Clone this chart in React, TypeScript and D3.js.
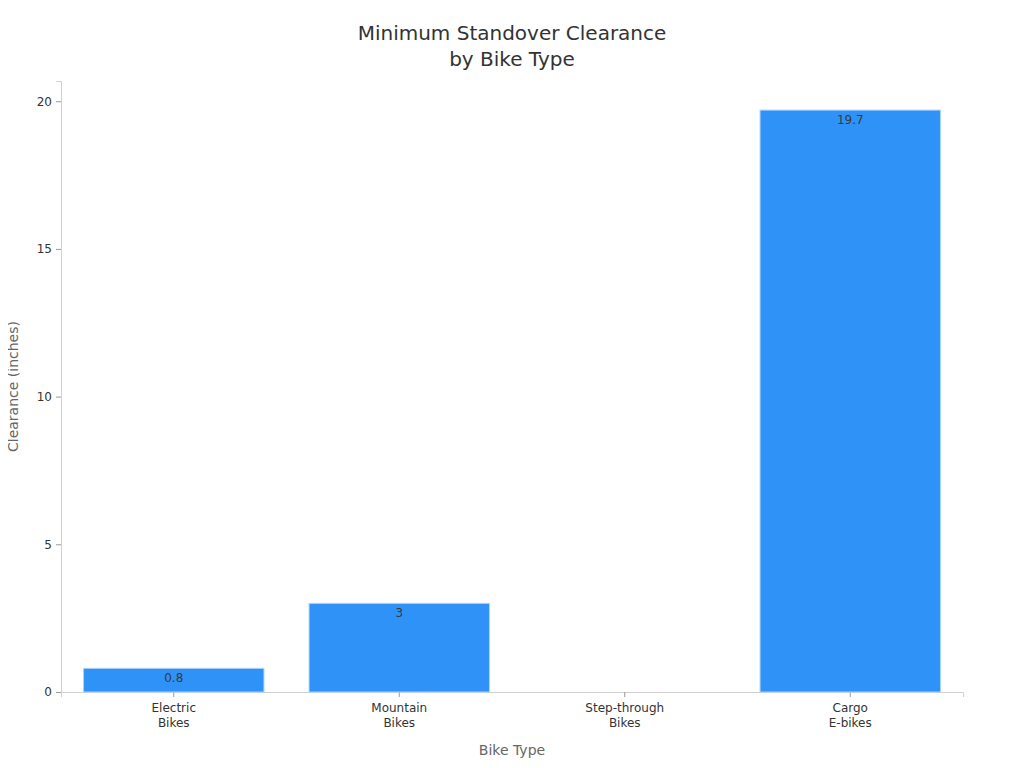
import { useEffect, useRef } from 'react';
import * as d3 from 'd3';

const categories = ['Electric\nBikes', 'Mountain\nBikes', 'Step-through\nBikes', 'Cargo\nE-bikes'];
const clearance: (number | null)[] = [0.8, 3, null, 19.7];
const yTicks = [0, 5, 10, 15, 20];
const titleLines = ['Minimum Standover Clearance', 'by Bike Type'];

const FONT = '"DejaVu Sans", sans-serif';

export default function App() {
  const svgRef = useRef<SVGSVGElement>(null);

  useEffect(() => {
    if (!svgRef.current) return;
    const width = 1024;
    const height = 768;
    const margin = { top: 81, right: 61, bottom: 76, left: 61 };
    const innerWidth = width - margin.left - margin.right;
    const innerHeight = height - margin.top - margin.bottom;

    const svg = d3.select(svgRef.current);
    svg.selectAll('*').remove();
    svg.attr('width', width).attr('height', height).style('font-family', FONT);

    // Title
    svg.append('text')
      .attr('x', width / 2)
      .attr('text-anchor', 'middle')
      .attr('fill', '#333')
      .attr('font-size', '20px')
      .selectAll('tspan')
      .data(titleLines)
      .join('tspan')
      .attr('x', width / 2)
      .attr('y', (_, i) => 40 + i * 26)
      .text(d => d);

    const g = svg.append('g').attr('transform', `translate(${margin.left},${margin.top})`);

    const x = d3.scaleBand()
      .domain(categories)
      .range([0, innerWidth])
      .paddingInner(0.2)
      .paddingOuter(0.1);

    const y = d3.scaleLinear()
      .domain([0, 19.7 * 1.05])
      .range([innerHeight, 0]);

    // Y axis
    g.append('g')
      .call(d3.axisLeft(y).tickValues(yTicks).tickSize(5).tickPadding(4))
      .call(ax => ax.select('.domain').attr('stroke', '#d0d0d0'))
      .call(ax => ax.selectAll('.tick line').attr('stroke', '#999'))
      .call(ax => ax.selectAll('.tick text')
        .attr('fill', '#333')
        .attr('font-size', '12px')
        .attr('font-family', FONT));

    // X axis
    const xAxis = g.append('g')
      .attr('transform', `translate(0,${innerHeight})`)
      .call(d3.axisBottom(x).tickSize(5).tickPadding(6))
      .call(ax => ax.select('.domain').attr('stroke', '#d0d0d0'))
      .call(ax => ax.selectAll('.tick line').attr('stroke', '#999'));

    xAxis.selectAll<SVGTextElement, string>('.tick text')
      .attr('fill', '#333')
      .attr('font-size', '12px')
      .attr('font-family', FONT)
      .each(function (d) {
        const t = d3.select(this);
        t.text(null);
        d.split('\n').forEach((line, i) => {
          t.append('tspan').attr('x', 0).attr('dy', i === 0 ? '0.71em' : '1.25em').text(line);
        });
      });

    // Bars
    const data = categories.map((c, i) => ({ c, v: clearance[i] })).filter(d => d.v != null) as { c: string; v: number }[];

    g.selectAll('.bar')
      .data(data)
      .join('rect')
      .attr('x', d => x(d.c)!)
      .attr('y', d => y(d.v))
      .attr('width', x.bandwidth())
      .attr('height', d => innerHeight - y(d.v))
      .attr('fill', '#2f92f7')
      .attr('stroke', '#a9d2fb')
      .attr('stroke-width', 1);

    g.selectAll('.bar-label')
      .data(data)
      .join('text')
      .attr('x', d => x(d.c)! + x.bandwidth() / 2)
      .attr('y', d => y(d.v) + 14)
      .attr('text-anchor', 'middle')
      .attr('fill', '#3a3a3a')
      .attr('font-size', '12px')
      .text(d => String(d.v));

    // Axis titles
    svg.append('text')
      .attr('x', margin.left + innerWidth / 2)
      .attr('y', 755)
      .attr('text-anchor', 'middle')
      .attr('fill', '#666')
      .attr('font-size', '14px')
      .text('Bike Type');

    svg.append('text')
      .attr('transform', `translate(18,${margin.top + innerHeight / 2}) rotate(-90)`)
      .attr('text-anchor', 'middle')
      .attr('fill', '#666')
      .attr('font-size', '14px')
      .text('Clearance (inches)');
  }, []);

  return (
    <div style={{ margin: -8 }}>
      <svg ref={svgRef} style={{ display: 'block' }} />
    </div>
  );
}
